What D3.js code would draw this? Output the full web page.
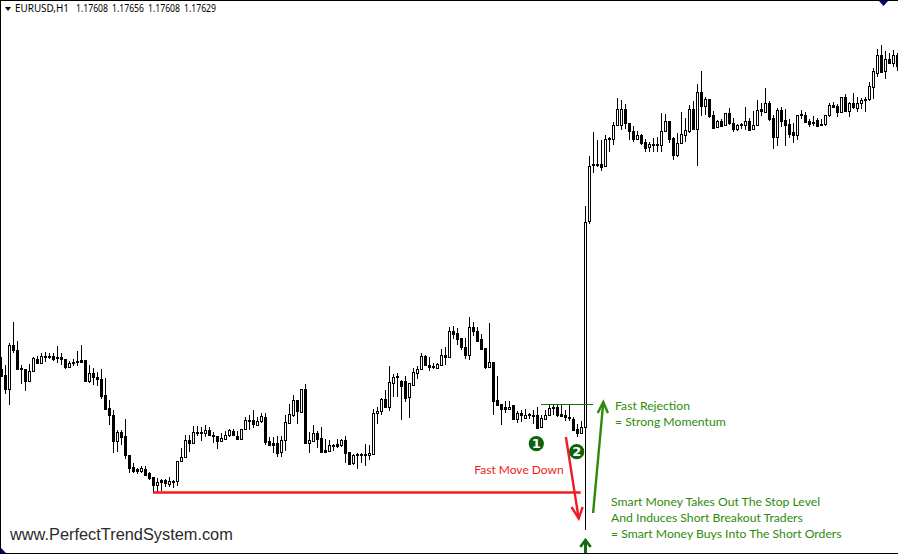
<!DOCTYPE html>
<html><head><meta charset="utf-8">
<style>html,body{margin:0;padding:0;background:#fff}svg{display:block}</style>
<script src="https://cdn.jsdelivr.net/npm/d3@7/dist/d3.min.js"></script>
</head><body><div id="chart"></div>
<script>
// Hourly EURUSD candles, values in points above the chart's base level
const opens=[231,225,211,255,250,232,231,219,229,241,237,244,244,244,243,243,241,233,238,239,240,240,219,227,223,221,205,192,185,159,168,164,145,133,131,129,131,127,123,115,120,120,116,119,119,139,143,160,157,168,168,167,170,165,164,159,161,165,169,164,161,171,180,180,175,179,183,159,157,157,148,160,177,185,200,188,211,157,159,167,162,150,149,155,156,155,160,148,137,146,146,146,145,146,187,189,201,193,217,224,219,219,203,215,227,231,244,235,234,232,235,245,243,269,267,262,253,245,273,269,261,252,233,238,200,196,193,191,195,181,187,182,186,185,185,173,181,185,193,193,186,185,183,181,171,167,173,379,436,436,436,434,462,461,475,475,491,477,469,461,465,458,453,456,456,455,469,479,462,445,457,465,469,491,471,508,494,501,485,473,479,475,487,477,471,476,475,479,471,475,491,488,497,482,463,490,480,476,468,465,486,485,479,478,480,476,476,485,495,494,488,503,489,497,492,497,501,501,513,527,545,529,541,537,545];
const highs=[243,235,257,278,259,235,231,236,243,244,247,248,247,247,254,247,241,239,241,249,255,240,235,232,228,231,222,200,190,170,170,181,145,137,132,134,134,128,123,122,121,121,123,120,139,152,165,165,174,174,173,175,173,168,164,167,169,171,171,169,171,183,185,190,183,187,187,163,163,164,164,185,196,205,200,211,216,168,175,169,173,161,160,156,161,161,164,148,146,147,147,156,155,191,193,202,210,234,226,227,220,224,217,232,234,247,245,243,237,237,251,253,273,274,272,262,262,283,278,273,266,252,277,238,224,196,199,199,195,189,190,191,187,190,193,185,190,196,195,195,195,190,195,183,176,179,394,444,468,460,460,465,463,478,502,500,496,477,474,469,466,461,458,462,463,487,486,479,463,467,488,482,495,499,516,529,503,501,489,480,481,487,492,482,476,477,493,482,489,500,497,512,499,485,492,493,491,481,477,485,490,488,481,484,482,481,485,497,498,496,503,506,498,507,503,502,503,518,532,551,555,549,547,550,547];
const lows=[223,206,195,247,231,216,209,218,228,237,237,238,241,239,237,235,231,232,234,234,238,218,217,215,214,201,191,175,147,148,155,141,127,127,126,127,124,120,107,108,109,113,113,112,114,138,142,148,157,164,159,163,164,157,151,159,160,163,165,160,160,170,170,172,174,177,155,154,147,143,143,149,177,183,176,187,157,147,159,152,147,147,148,149,152,153,137,135,135,131,137,134,140,145,176,185,192,189,203,203,180,198,182,214,221,230,234,229,231,231,235,235,242,261,255,250,241,240,264,259,251,231,233,185,195,175,187,190,180,177,178,181,181,176,171,173,181,184,185,183,183,179,179,169,163,167,70,376,427,433,429,433,448,455,474,470,471,460,458,460,455,448,448,448,448,448,468,457,440,443,457,458,467,471,434,484,485,482,472,472,473,474,475,468,469,471,470,469,470,475,484,487,479,451,454,473,454,462,457,460,481,477,473,474,474,474,474,483,492,483,487,488,483,491,488,491,488,499,501,523,527,521,537,533,529];
const closes=[224,211,255,250,231,231,219,229,242,237,244,243,243,241,242,241,233,237,237,238,238,219,227,223,221,204,191,185,159,168,163,145,132,129,129,132,125,122,115,118,118,117,119,118,139,143,160,157,168,167,167,170,165,164,159,162,165,170,165,161,171,180,179,176,179,184,158,155,155,147,160,178,186,200,189,211,157,160,167,161,148,148,155,154,154,160,147,136,145,145,145,145,147,187,189,201,193,218,223,223,214,202,217,228,231,244,235,233,233,236,245,243,269,266,261,253,245,273,269,259,251,233,238,199,195,191,191,193,181,187,185,185,185,184,172,182,185,192,192,185,184,183,182,170,167,173,378,434,435,435,433,461,461,475,491,491,477,469,461,465,457,452,456,455,455,469,479,461,445,457,466,470,491,471,508,494,501,484,472,479,474,487,477,471,475,475,479,470,475,490,489,497,481,463,490,479,475,466,465,485,485,478,476,477,474,475,485,495,493,488,503,489,497,493,497,500,500,514,529,545,528,541,537,545,534];

// Annotations, positioned in chart units: candle number and points
const supportLine=[[38.9,107.5],[145.8,107.5]];
const resistanceLine=[[135.9,195.5],[148.9,195.5]];
const moveDownArrow=[[142.1,163],[145.3,81.5]];
const moveDownHead=[[143.5,93],[145.3,81.5],[146.3,93]];
const rejectionArrow=[[148.9,87],[151.45,198]];
const rejectionHead=[[150.05,187],[151.45,198],[152.6,187]];
const spikeArrow=[[147,47],[147,59]];
const spikeHead=[[145.7,53],[147,60],[148.3,53]];
const markers=[{k:134.7,v:156.3,label:"1"},{k:144.8,v:148.3,label:"2"}];
const headerSymbol="EURUSD,H1";
const headerPrices=["1.17608","1.17656","1.17608","1.17629"];
const watermark="www.PerfectTrendSystem.com";
const redNotes=[{k:119.2,v:126,text:"Fast Move Down"}];
const greenNotes=[
 {k:154.4,v:190,text:"Fast Rejection"},
 {k:154.4,v:174,text:"= Strong Momentum"},
 {k:153.4,v:94.5,text:"Smart Money Takes Out The Stop Level"},
 {k:153.4,v:78.5,text:"And Induces Short Breakout Traders"},
 {k:153.4,v:62,text:"= Smart Money Buys Into The Short Orders"}
];

const W=898,H=555;
const x=d3.scaleLinear().domain([1,225]).range([1.5,897.5]);
const y=d3.scaleLinear().domain([45,600]).range([555,0]);
const svg=d3.select("#chart").append("svg").attr("width",W).attr("height",H)
  .style("font-family","Lato, sans-serif");
svg.append("rect").attr("width",W).attr("height",H).attr("fill","#fff");

const candles=opens.map((o,i)=>({k:i+1,o,h:highs[i],l:lows[i],c:closes[i]}));
const g=svg.append("g").attr("shape-rendering","crispEdges");
g.selectAll("line.wick").data(candles).join("line").attr("class","wick")
  .attr("x1",d=>x(d.k)).attr("x2",d=>x(d.k))
  .attr("y1",d=>y(d.h)).attr("y2",d=>y(d.l)).attr("stroke","#000");
g.selectAll("rect.body").data(candles).join("rect").attr("class","body")
  .attr("x",d=>x(d.k)-1).attr("width",2)
  .attr("y",d=>y(Math.max(d.o,d.c))+0.5)
  .attr("height",d=>Math.max(0,Math.abs(d.o-d.c)))
  .attr("fill",d=>d.c>d.o?"#fff":"#000").attr("stroke","#000");

const line=d3.line().x(p=>x(p[0])).y(p=>y(p[1]));
const stroke=(pts,color,w)=>svg.append("path").attr("d",line(pts)).attr("fill","none")
  .attr("stroke",color).attr("stroke-width",w);
stroke(supportLine,"#f31c1c",2.4);
stroke(resistanceLine,"#1a6b0a",1.2);
stroke(moveDownArrow,"#ee1c25",2.4);
stroke(moveDownHead,"#ee1c25",2.4);
stroke(rejectionArrow,"#2f8a0c",2.4);
stroke(rejectionHead,"#2f8a0c",2.4);
stroke(spikeArrow,"#0f6b0f",3);
stroke(spikeHead,"#0f6b0f",2.6);

svg.selectAll("circle.mk").data(markers).join("circle").attr("class","mk")
  .attr("cx",d=>x(d.k)).attr("cy",d=>y(d.v)).attr("r",7.6).attr("fill","#0b630b");
svg.selectAll("text.mk").data(markers).join("text").attr("class","mk")
  .attr("x",d=>x(d.k)).attr("y",d=>y(d.v)+4.5).attr("text-anchor","middle")
  .attr("fill","#fff").attr("font-size",13).attr("font-weight",700)
  .attr("font-family","'DejaVu Sans',sans-serif").text(d=>d.label);

svg.selectAll("text.red").data(redNotes).join("text").attr("class","red")
  .attr("x",d=>x(d.k)).attr("y",d=>y(d.v)).attr("fill","#f01c1c").attr("font-size",12).text(d=>d.text);
svg.selectAll("text.green").data(greenNotes).join("text").attr("class","green")
  .attr("x",d=>x(d.k)).attr("y",d=>y(d.v)).attr("fill","#2f8a0c").attr("font-size",12.2).text(d=>d.text);

// Terminal header, watermark and frame
svg.append("path").attr("d",d3.line()([[5,7],[11,7],[8,11]])+"Z").attr("fill","#000");
svg.append("text").attr("x",15).attr("y",12).attr("font-size",10.5)
  .attr("textLength",54).attr("lengthAdjust","spacingAndGlyphs")
  .attr("font-family","'Noto Sans',sans-serif").attr("fill","#000").text(headerSymbol);
svg.selectAll("text.price").data(headerPrices).join("text").attr("class","price")
  .attr("x",(d,i)=>76+36*i).attr("y",12).attr("font-size",10)
  .attr("textLength",32).attr("lengthAdjust","spacingAndGlyphs")
  .attr("font-family","'Noto Sans',sans-serif").attr("fill","#000").text(d=>d);
svg.append("text").attr("x",10).attr("y",540).attr("font-size",16.35)
  .attr("font-family","'Liberation Sans',sans-serif").attr("fill","#2a2a2a").text(watermark);
svg.append("path").attr("d",d3.line()([[879,1],[888,1],[883.5,6]])+"Z").attr("fill","#000080");
svg.append("path").attr("d",d3.line()([[1,548],[6,553],[1,553]])+"Z").attr("fill","#000080");
const frame=svg.append("g").attr("shape-rendering","crispEdges");
frame.append("line").attr("x1",0.5).attr("x2",0.5).attr("y1",0).attr("y2",554).attr("stroke","#000");
frame.append("line").attr("x1",0).attr("x2",W).attr("y1",0.5).attr("y2",0.5).attr("stroke","#000");
frame.append("line").attr("x1",0).attr("x2",W).attr("y1",553.5).attr("y2",553.5).attr("stroke","#000");
</script></body></html>
